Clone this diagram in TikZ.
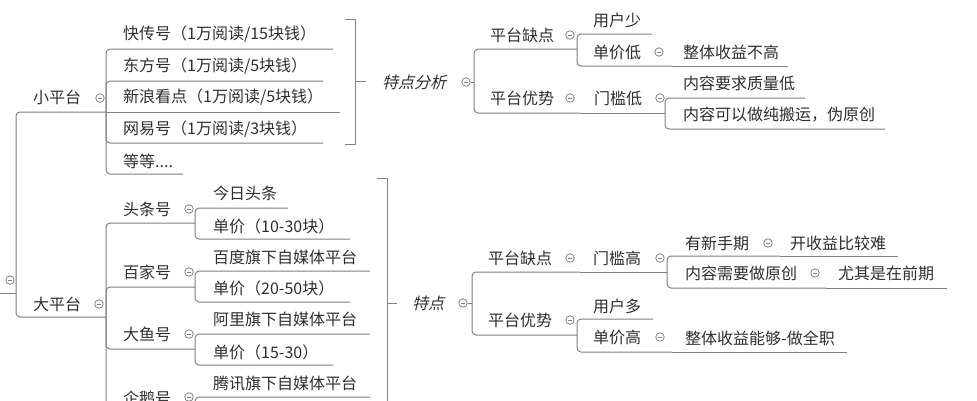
\documentclass[tikz,border=0pt]{standalone}
\usepackage{fontspec}
\usepackage{xcolor}
\setmainfont{Noto Sans CJK SC}
\newfontfamily\slantfont[FakeSlant=0.25]{Noto Sans CJK SC}
\definecolor{ink}{HTML}{2E2E2E}
\definecolor{wire}{HTML}{808080}

\tikzset{
  topic/.style={anchor=west, inner sep=0pt, text=ink, font=\fontsize{16}{18}\selectfont},
  loose/.style={topic, font=\fontsize{16}{18}\selectfont\slantfont},
  link/.style={draw=wire, line width=1pt, rounded corners=4pt},
  brace/.style={draw=wire, line width=1pt},
  fold/.style={circle, draw=wire, line width=0.8pt, minimum size=8.5pt, inner sep=0pt, fill=white,
    path picture={\draw[wire, line width=0.7pt] ([xshift=-2.2pt]path picture bounding box.center) -- ([xshift=2.2pt]path picture bounding box.center);}},
}

\begin{document}
\begin{tikzpicture}[x=1pt,y=-1pt]
    \useasboundingbox (0,0) rectangle (977,400);
    \clip (0,0) rectangle (977,400);

    % root
    \coordinate (root-w) at (0,293);
    \coordinate (root) at (16,293);
    \draw[link] (root-w) -- (root);

    % small platforms
    \node[topic] (xiao) at (33,97) {小平台};
    \coordinate (xiao-s) at (106,112);
    \node[topic] (kc) at (123,34) {快传号（1万阅读/15块钱）};
    \node[topic] (df) at (123,66) {东方号（1万阅读/5块钱）};
    \node[topic] (xl) at (123,97) {新浪看点（1万阅读/5块钱）};
    \node[topic] (wy) at (123,129) {网易号（1万阅读/3块钱）};
    \node[topic] (dd) at (123,161) {等等....};
    \coordinate (kc-u) at (333,49);
    \coordinate (df-u) at (323,81);
    \coordinate (xl-u) at (340,112);
    \coordinate (wy-u) at (323,143);
    \coordinate (dd-u) at (183,174);

    \draw[link] (root) |- (xiao-s);
    \draw[link] (xiao-s) |- (kc-u);
    \draw[link] (xiao-s) |- (df-u);
    \draw[link] (xiao-s) -- (xl-u);
    \draw[link] (xiao-s) |- (wy-u);
    \draw[link] (xiao-s) |- (dd-u);

    % summary of small platforms
    \coordinate (sum1-a) at (345,19);
    \coordinate (sum1-b) at (345,144);
    \coordinate (sum1-m) at (366,81);
    \draw[brace] (sum1-a) -- ++(10,0) |- (sum1-b);
    \draw[brace] ([xshift=-11pt]sum1-m) -- (sum1-m);

    \node[loose] (fx) at (382,82) {特点分析};
    \coordinate (fx-s) at (474,82);
    \node[topic] (qd1) at (490,35) {平台缺点};
    \coordinate (qd1-s) at (577,49);
    \node[topic] (yh1) at (593,20) {用户少};
    \coordinate (yh1-u) at (652,34);
    \node[topic] (dj1) at (593,52) {单价低};
    \coordinate (dj1-s) at (672,66);
    \node[topic] (zt1) at (683,52) {整体收益不高};
    \coordinate (zt1-u) at (788,66);
    \node[topic] (ys1) at (490,98) {平台优势};
    \coordinate (ys1-s) at (580,113);
    \node[topic] (mk1) at (594,98) {门槛低};
    \coordinate (mk1-s) at (665,113);
    \node[topic] (zl1) at (683,83) {内容要求质量低};
    \coordinate (zl1-u) at (805,98);
    \node[topic] (by1) at (683,115) {内容可以做纯搬运，伪原创};
    \coordinate (by1-u) at (885,129);

    \draw[link] (fx-s) |- (qd1-s);
    \draw[link] (qd1-s) |- (yh1-u);
    \draw[link] (qd1-s) |- (dj1-s);
    \draw[link] (dj1-s) -- (zt1-u);
    \draw[link] (fx-s) |- (ys1-s);
    \draw[link] (ys1-s) -- (mk1-s);
    \draw[link] (mk1-s) |- (zl1-u);
    \draw[link] (mk1-s) |- (by1-u);

    % big platforms
    \node[topic] (da) at (33,304) {大平台};
    \coordinate (da-s) at (106,317);
    \node[topic] (tt) at (123,209) {头条号};
    \coordinate (tt-s) at (195,223);
    \node[topic] (jr) at (213,193) {今日头条};
    \coordinate (jr-u) at (288,208);
    \node[topic] (tt-p) at (213,226) {单价（10-30块）};
    \coordinate (tt-pu) at (350,239);
    \node[topic] (bj) at (123,272) {百家号};
    \coordinate (bj-s) at (195,287);
    \node[topic] (bd) at (213,257) {百度旗下自媒体平台};
    \coordinate (bd-u) at (370,271);
    \node[topic] (bj-p) at (213,288) {单价（20-50块）};
    \coordinate (bj-pu) at (350,302);
    \node[topic] (dy) at (123,334) {大鱼号};
    \coordinate (dy-s) at (195,349);
    \node[topic] (al) at (213,319) {阿里旗下自媒体平台};
    \coordinate (al-u) at (370,334);
    \node[topic] (dy-p) at (213,352) {单价（15-30）};
    \coordinate (dy-pu) at (333,365);
    \node[topic] (qe) at (123,398) {企鹅号};
    \coordinate (qe-s) at (195,411);
    \node[topic] (tx) at (213,383) {腾讯旗下自媒体平台};
    \coordinate (tx-u) at (370,397);

    \draw[link] (root) |- (da-s);
    \draw[link] (da-s) |- (tt-s);
    \draw[link] (tt-s) |- (jr-u);
    \draw[link] (tt-s) |- (tt-pu);
    \draw[link] (da-s) |- (bj-s);
    \draw[link] (bj-s) |- (bd-u);
    \draw[link] (bj-s) |- (bj-pu);
    \draw[link] (da-s) |- (dy-s);
    \draw[link] (dy-s) |- (al-u);
    \draw[link] (dy-s) |- (dy-pu);
    \draw[link] (da-s) |- (qe-s);
    \draw[link] (qe-s) |- (tx-u);

    % summary of big platforms
    \coordinate (sum2-a) at (377,178);
    \coordinate (sum2-b) at (377,440);
    \coordinate (sum2-m) at (397,303);
    \draw[brace] (sum2-a) -- ++(10,0) |- (sum2-b);
    \draw[brace] ([xshift=-10pt]sum2-m) -- (sum2-m);

    \node[loose] (td) at (412,303) {特点};
    \coordinate (td-s) at (472,303);
    \node[topic] (qd2) at (488,258) {平台缺点};
    \coordinate (qd2-s) at (580,272);
    \node[topic] (mk2) at (593,258) {门槛高};
    \coordinate (mk2-s) at (667,272);
    \node[topic] (xs2) at (685,243) {有新手期};
    \coordinate (xs2-s) at (780,256);
    \node[topic] (kn2) at (790,243) {开收益比较难};
    \coordinate (kn2-u) at (898,256);
    \node[topic] (yc2) at (685,273) {内容需要做原创};
    \coordinate (yc2-s) at (826,288);
    \node[topic] (qq2) at (838,273) {尤其是在前期};
    \coordinate (qq2-u) at (947,288);
    \node[topic] (ys2) at (488,320) {平台优势};
    \coordinate (ys2-s) at (577,335);
    \node[topic] (yh2) at (593,306) {用户多};
    \coordinate (yh2-u) at (653,319);
    \node[topic] (dj2) at (593,337) {单价高};
    \coordinate (dj2-s) at (672,352);
    \node[topic] (zt2) at (685,338) {整体收益能够-做全职};
    \coordinate (zt2-u) at (847,352);

    \draw[link] (td-s) |- (qd2-s);
    \draw[link] (qd2-s) -- (mk2-s);
    \draw[link] (mk2-s) |- (xs2-s);
    \draw[link] (xs2-s) -- (kn2-u);
    \draw[link] (mk2-s) |- (yc2-s);
    \draw[link] (yc2-s) -- (qq2-u);
    \draw[link] (td-s) |- (ys2-s);
    \draw[link] (ys2-s) |- (yh2-u);
    \draw[link] (ys2-s) |- (dj2-s);
    \draw[link] (dj2-s) -- (zt2-u);

    % fold buttons
    \node[fold] (root-c) at (10,280) {};
    \node[fold] (xiao-c) at (100,98) {};
    \node[fold] (da-c) at (99,304) {};
    \node[fold] (tt-c) at (189,209) {};
    \node[fold] (bj-c) at (189,272) {};
    \node[fold] (dy-c) at (189,334) {};
    \node[fold] (qe-c) at (189,397) {};
    \node[fold] (fx-c) at (466,82) {};
    \node[fold] (qd1-c) at (570,35) {};
    \node[fold] (dj1-c) at (659,52) {};
    \node[fold] (ys1-c) at (570,98) {};
    \node[fold] (mk1-c) at (660,98) {};
    \node[fold] (td-c) at (463,303) {};
    \node[fold] (qd2-c) at (570,258) {};
    \node[fold] (mk2-c) at (660,258) {};
    \node[fold] (xs2-c) at (768,243) {};
    \node[fold] (yc2-c) at (815,273) {};
    \node[fold] (ys2-c) at (570,320) {};
    \node[fold] (dj2-c) at (660,337) {};
    \draw[link] (fx-c.east) -- (fx-s);
    \draw[link] (td-c.east) -- (td-s);
\end{tikzpicture}
\end{document}
